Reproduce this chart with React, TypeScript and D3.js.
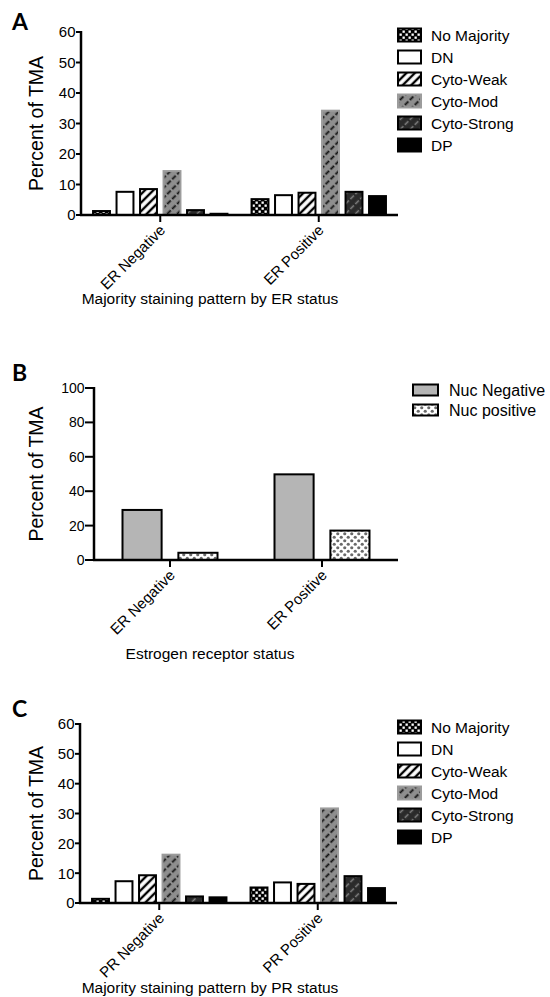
import React from 'react';
import * as d3 from 'd3';

// ---- data ----
const stainSeries = ['No Majority', 'DN', 'Cyto-Weak', 'Cyto-Mod', 'Cyto-Strong', 'DP'];
const erCategories = ['ER Negative', 'ER Positive'];
const erNegativeValues = [1.3, 7.6, 8.5, 14.4, 1.6, 0.4];
const erPositiveValues = [5.2, 6.5, 7.3, 34.2, 7.6, 6.2];

const nucSeries = ['Nuc Negative', 'Nuc positive'];
const nucErNegativeValues = [29.1, 4.2];
const nucErPositiveValues = [49.8, 17.1];

const prCategories = ['PR Negative', 'PR Positive'];
const prNegativeValues = [1.4, 7.3, 9.3, 16.2, 2.2, 1.9];
const prPositiveValues = [5.2, 6.9, 6.4, 31.7, 9.0, 5.0];

const ticks60 = [0, 10, 20, 30, 40, 50, 60];
const ticks100 = [0, 20, 40, 60, 80, 100];

const FONT = '"Liberation Sans", Arial, sans-serif';

// fill / stroke per series
const seriesStyle: Record<string, { fill: string; stroke: string }> = {
  'No Majority': { fill: 'url(#pat-nomaj)', stroke: '#000' },
  DN: { fill: '#fff', stroke: '#000' },
  'Cyto-Weak': { fill: 'url(#pat-weak)', stroke: '#000' },
  'Cyto-Mod': { fill: 'url(#pat-mod)', stroke: '#9c9c9c' },
  'Cyto-Strong': { fill: 'url(#pat-strong)', stroke: '#000' },
  DP: { fill: '#000', stroke: '#000' },
  'Nuc Negative': { fill: '#b5b5b5', stroke: '#000' },
  'Nuc positive': { fill: 'url(#pat-nucpos)', stroke: '#000' },
};

function Patterns() {
  return (
    <defs>
      <pattern id="pat-nomaj" width="6" height="6" patternUnits="userSpaceOnUse">
        <rect width="6" height="6" fill="#000" />
        <rect x="0.5" y="0.5" width="2.3" height="2.3" fill="#fff" />
        <rect x="3.5" y="3.5" width="2.3" height="2.3" fill="#fff" />
      </pattern>
      <pattern id="pat-weak" width="6" height="6" patternUnits="userSpaceOnUse" patternTransform="rotate(45)">
        <rect width="6" height="6" fill="#fff" />
        <line x1="3" y1="0" x2="3" y2="6" stroke="#000" strokeWidth="2.4" />
      </pattern>
      <pattern id="pat-mod" width="7" height="7" patternUnits="userSpaceOnUse" patternTransform="rotate(45)">
        <rect width="7" height="7" fill="#8e8e8e" />
        <line x1="3.5" y1="0" x2="3.5" y2="7" stroke="#111" strokeWidth="1.8" strokeDasharray="5 2" />
      </pattern>
      <pattern id="pat-strong" width="7" height="7" patternUnits="userSpaceOnUse" patternTransform="rotate(45)">
        <rect width="7" height="7" fill="#2a2a2a" />
        <line x1="3.5" y1="0" x2="3.5" y2="7" stroke="#858585" strokeWidth="1.5" strokeDasharray="5 2" />
      </pattern>
      <pattern id="pat-nucpos" width="7" height="7" patternUnits="userSpaceOnUse">
        <rect width="7" height="7" fill="#fff" />
        <circle cx="1.75" cy="1.75" r="1.6" fill="#6a6a6a" />
        <circle cx="5.25" cy="5.25" r="1.6" fill="#6a6a6a" />
      </pattern>
    </defs>
  );
}

type PanelProps = {
  letter: string;
  letterY: number;
  categories: string[];
  series: string[];
  values: number[][];
  yMax: number;
  ticks: number[];
  xLeft: number;
  xRight: number;
  yBottom: number;
  yTop: number;
  groupSpan: number;
  padInner: number;
  padOuter: number;
  tickLen: number;
  tickFont: number;
  title: string;
  titleY: number;
  legendX: number;
  legendY: number;
  legendStep: number;
  swatchW: number;
  swatchH: number;
  legendFont: number;
  legendTextX: number;
};

function Panel(p: PanelProps) {
  const y = d3.scaleLinear().domain([0, p.yMax]).range([p.yBottom, p.yTop]);
  const xGroup = d3.scaleBand<string>().domain(p.categories).range([p.xLeft, p.xRight]);
  const xSeries = d3
    .scaleBand<string>()
    .domain(p.series)
    .range([-p.groupSpan / 2, p.groupSpan / 2])
    .paddingInner(p.padInner)
    .paddingOuter(p.padOuter);
  const center = (c: string) => (xGroup(c) ?? 0) + xGroup.bandwidth() / 2;
  const labelYMid = (p.yBottom + p.yTop) / 2;

  return (
    <g fontFamily={FONT}>
      <text x={12} y={p.letterY} fontFamily="Lato, sans-serif" fontWeight="bold" fontSize={23}>
        {p.letter}
      </text>

      {/* bars */}
      {p.categories.map((c, ci) =>
        p.series.map((s, si) => {
          const v = p.values[ci][si];
          const st = seriesStyle[s];
          return (
            <rect
              key={c + s}
              x={center(c) + (xSeries(s) ?? 0)}
              y={y(v)}
              width={xSeries.bandwidth()}
              height={p.yBottom - y(v)}
              fill={st.fill}
              stroke={st.stroke}
              strokeWidth={2}
            />
          );
        })
      )}

      {/* y axis */}
      <line x1={p.xLeft} x2={p.xLeft} y1={p.yTop - 1} y2={p.yBottom + 1} stroke="#000" strokeWidth={2.5} />
      {p.ticks.map((t) => (
        <g key={t}>
          <line x1={p.xLeft - p.tickLen} x2={p.xLeft} y1={y(t)} y2={y(t)} stroke="#000" strokeWidth={2} />
          <text x={p.xLeft - p.tickLen - 0.5} y={y(t)} dy="0.36em" textAnchor="end" fontSize={p.tickFont}>
            {t}
          </text>
        </g>
      ))}
      <text
        transform={`translate(43,${labelYMid}) rotate(-90)`}
        textAnchor="middle"
        fontSize={19.5}
      >
        Percent of TMA
      </text>

      {/* x axis */}
      <line x1={p.xLeft - 1} x2={p.xRight} y1={p.yBottom} y2={p.yBottom} stroke="#000" strokeWidth={2.5} />
      {p.categories.map((c) => (
        <g key={c}>
          <line x1={center(c)} x2={center(c)} y1={p.yBottom} y2={p.yBottom + 7} stroke="#000" strokeWidth={2} />
          <text
            transform={`translate(${center(c) + 6},${p.yBottom + 16}) rotate(-45)`}
            textAnchor="end"
            fontSize={15}
          >
            {c}
          </text>
        </g>
      ))}
      <text x={210} y={p.titleY} textAnchor="middle" fontSize={15.5}>
        {p.title}
      </text>

      {/* legend */}
      {p.series.map((s, i) => {
        const cy = p.legendY + i * p.legendStep;
        const st = seriesStyle[s];
        return (
          <g key={s}>
            <rect
              x={p.legendX + 1}
              y={cy - p.swatchH / 2 + 1}
              width={p.swatchW - 2}
              height={p.swatchH - 2}
              fill={st.fill}
              stroke={st.stroke}
              strokeWidth={2}
            />
            <text x={p.legendTextX} y={cy} dy="0.36em" fontSize={p.legendFont}>
              {s}
            </text>
          </g>
        );
      })}
    </g>
  );
}

export default function App() {
  return (
    <div style={{ position: 'absolute', left: 0, top: 0 }}>
      <svg width={550} height={997} style={{ display: 'block', background: '#fff' }}>
        <Patterns />
        <Panel
          letter="A"
          letterY={30}
          categories={erCategories}
          series={stainSeries}
          values={[erNegativeValues, erPositiveValues]}
          yMax={60}
          ticks={ticks60}
          xLeft={81}
          xRight={398}
          yBottom={215}
          yTop={32}
          groupSpan={141}
          padInner={0.28}
          padOuter={0.14}
          tickLen={5}
          tickFont={15}
          title="Majority staining pattern by ER status"
          titleY={304}
          legendX={397}
          legendY={35}
          legendStep={22}
          swatchW={25}
          swatchH={15}
          legendFont={15.5}
          legendTextX={431}
        />
        <Panel
          letter="B"
          letterY={381}
          categories={erCategories}
          series={nucSeries}
          values={[nucErNegativeValues, nucErPositiveValues]}
          yMax={100}
          ticks={ticks100}
          xLeft={94}
          xRight={398}
          yBottom={560}
          yTop={388}
          groupSpan={95}
          padInner={0.3}
          padOuter={0}
          tickLen={9}
          tickFont={14}
          title="Estrogen receptor status"
          titleY={659}
          legendX={412}
          legendY={390}
          legendStep={20}
          swatchW={27}
          swatchH={13}
          legendFont={16}
          legendTextX={449}
        />
        <Panel
          letter="C"
          letterY={717}
          categories={prCategories}
          series={stainSeries}
          values={[prNegativeValues, prPositiveValues]}
          yMax={60}
          ticks={ticks60}
          xLeft={80}
          xRight={397}
          yBottom={903}
          yTop={724}
          groupSpan={141}
          padInner={0.28}
          padOuter={0.14}
          tickLen={5}
          tickFont={15}
          title="Majority staining pattern by PR status"
          titleY={993}
          legendX={397}
          legendY={727}
          legendStep={22}
          swatchW={25}
          swatchH={15}
          legendFont={15.5}
          legendTextX={431}
        />
      </svg>
    </div>
  );
}
